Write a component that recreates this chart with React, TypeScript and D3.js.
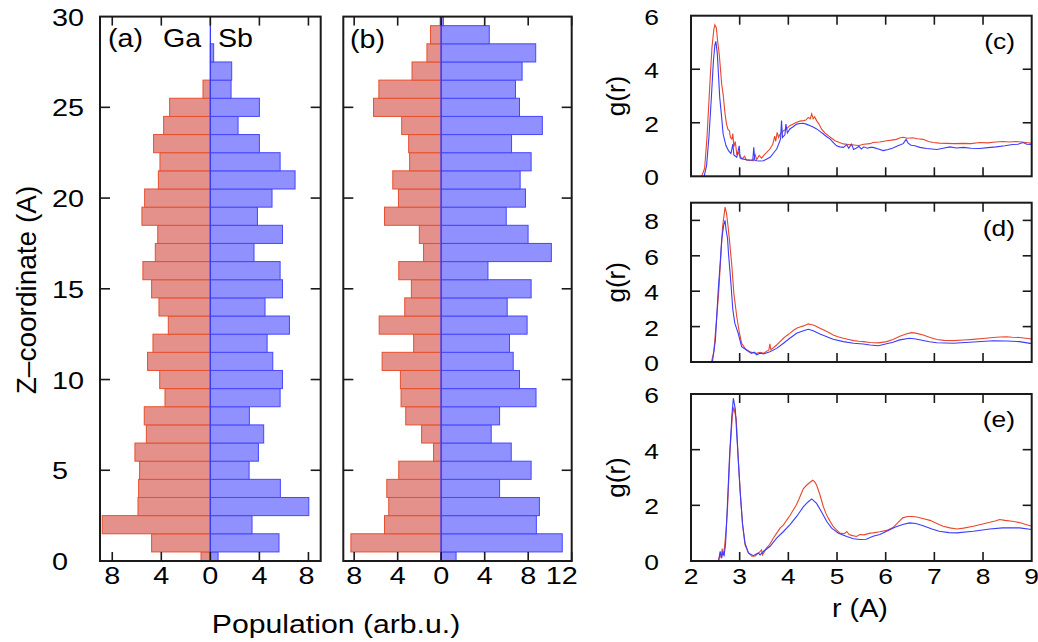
import React from "react";
import * as d3 from "d3";

// Z bins (centres, 1 A wide)
const zBins = d3.range(0, 31);

// panel (a): population per bin
const gaA = [0.76, 4.79, 8.82, 5.9, 5.85, 5.77, 6.15, 5.22, 5.39, 3.7, 4.13, 5.12, 4.68, 3.43, 4.19, 4.79,
  5.5, 4.49, 4.29, 5.58, 5.36, 4.24, 4.11, 4.63, 3.81, 3.32, 0.6, 0, 0, 0, 0];
const sbA = [0.63, 5.6, 3.4, 8.03, 5.71, 3.16, 3.92, 4.35, 3.18, 5.69, 5.88, 5.09, 4.63, 6.45, 4.46, 5.88,
  5.69, 3.56, 5.88, 3.84, 5.03, 6.91, 5.69, 4.0, 2.26, 4.0, 1.69, 1.74, 0.27, 0, 0];

// panel (b)
const gaB = [0.05, 8.3, 5.21, 4.82, 5.0, 3.9, 0.7, 1.8, 3.26, 3.69, 3.75, 5.43, 2.53, 5.7, 3.35, 2.74,
  3.9, 1.62, 2.01, 5.21, 3.93, 4.45, 2.9, 2.99, 3.63, 6.22, 5.73, 2.68, 1.31, 0.98, 0.1];
const sbB = [1.37, 11.13, 8.75, 9.03, 5.37, 8.27, 6.44, 4.6, 5.37, 8.72, 7.2, 6.62, 6.28, 7.9, 6.07, 8.27,
  4.3, 10.13, 7.99, 5.98, 7.75, 7.26, 8.27, 6.47, 9.3, 7.2, 6.83, 7.44, 8.69, 4.42, 0.2];

const zTicks = [0, 5, 10, 15, 20, 25, 30];
const popTicksA = [-8, -4, 0, 4, 8];
const popTicksB = [-8, -4, 0, 4, 8, 12];
const rTicks = [2, 3, 4, 5, 6, 7, 8, 9];
const gTicksC = [0, 2, 4, 6];
const gTicksD = [0, 2, 4, 6, 8];
const gTicksE = [0, 2, 4, 6];

// g(r) curves, [r, g]
const cRed = [[2.22,0],[2.28,0.3],[2.33,1.5],[2.38,3.2],[2.43,4.8],[2.47,5.5],[2.49,5.66],[2.52,5.55],[2.55,5.0],[2.58,4.57],[2.61,3.9],[2.63,3.45],[2.66,3.07],[2.7,2.33],[2.73,1.95],[2.76,1.75],[2.79,1.7],[2.81,1.45],[2.84,1.39],[2.86,1.6],[2.88,1.1],[2.91,1.3],[2.94,0.83],[2.97,0.9],[3.0,0.77],[3.05,0.65],[3.1,0.75],[3.14,0.6],[3.18,0.61],[3.23,0.6],[3.28,0.58],[3.32,0.8],[3.35,0.62],[3.4,0.78],[3.45,0.68],[3.49,0.77],[3.55,0.88],[3.62,1.02],[3.68,1.2],[3.72,1.5],[3.74,1.3],[3.77,1.64],[3.8,1.45],[3.83,1.58],[3.9,1.7],[3.96,1.77],[4.03,1.89],[4.1,1.95],[4.17,2.02],[4.24,2.06],[4.31,2.08],[4.36,2.1],[4.41,2.2],[4.45,2.15],[4.48,2.33],[4.51,2.15],[4.54,2.22],[4.58,2.08],[4.63,1.95],[4.68,1.77],[4.75,1.62],[4.82,1.52],[4.89,1.42],[4.96,1.33],[5.05,1.26],[5.13,1.21],[5.24,1.19],[5.34,1.17],[5.45,1.15],[5.55,1.2],[5.68,1.22],[5.74,1.26],[5.88,1.28],[6.02,1.33],[6.12,1.35],[6.22,1.38],[6.3,1.44],[6.36,1.46],[6.45,1.42],[6.55,1.44],[6.65,1.4],[6.77,1.38],[6.88,1.3],[6.98,1.26],[7.1,1.24],[7.25,1.23],[7.4,1.22],[7.59,1.23],[7.75,1.22],[7.93,1.26],[8.1,1.25],[8.25,1.28],[8.41,1.3],[8.55,1.28],[8.68,1.3],[8.85,1.27],[9.0,1.23]];
const cBlue = [[2.27,0],[2.32,0.4],[2.37,1.5],[2.42,3.0],[2.46,4.3],[2.49,4.9],[2.51,5.04],[2.54,4.6],[2.56,3.95],[2.59,2.95],[2.63,2.2],[2.66,1.58],[2.72,1.14],[2.77,0.96],[2.82,0.85],[2.86,1.2],[2.88,0.8],[2.94,0.71],[2.99,1.14],[3.01,0.68],[3.06,0.65],[3.14,0.62],[3.22,0.6],[3.27,0.62],[3.29,1.08],[3.31,0.6],[3.35,0.58],[3.42,0.57],[3.49,0.58],[3.56,0.65],[3.63,0.72],[3.7,0.88],[3.76,1.02],[3.8,1.2],[3.84,1.4],[3.86,2.08],[3.88,1.45],[3.93,1.55],[3.95,1.95],[3.98,1.62],[4.03,1.77],[4.1,1.85],[4.17,1.95],[4.24,1.97],[4.31,1.98],[4.38,1.94],[4.45,1.89],[4.52,1.83],[4.58,1.77],[4.65,1.68],[4.72,1.58],[4.79,1.48],[4.86,1.39],[4.93,1.25],[4.99,1.14],[5.06,1.1],[5.13,1.08],[5.2,1.18],[5.24,1.05],[5.3,1.2],[5.34,1.0],[5.4,1.06],[5.45,1.12],[5.5,1.02],[5.55,1.1],[5.62,1.05],[5.68,1.08],[5.74,1.08],[5.85,1.02],[5.95,0.96],[6.05,1.0],[6.15,1.06],[6.25,1.14],[6.36,1.22],[6.42,1.38],[6.46,1.24],[6.52,1.16],[6.6,1.14],[6.7,1.08],[6.84,1.04],[6.95,1.02],[7.05,1.0],[7.18,1.05],[7.32,1.1],[7.45,1.06],[7.6,1.08],[7.75,1.05],[7.93,1.04],[8.1,1.07],[8.27,1.1],[8.45,1.14],[8.61,1.19],[8.72,1.2],[8.82,1.26],[8.9,1.2],[9.0,1.19]];

const dRed = [[2.42,0],[2.47,0.6],[2.53,2.57],[2.57,4.0],[2.6,5.4],[2.65,7.66],[2.7,8.75],[2.73,8.4],[2.76,7.7],[2.79,6.9],[2.84,5.4],[2.88,3.89],[2.94,2.57],[2.99,1.72],[3.04,1.06],[3.11,0.77],[3.16,0.65],[3.21,0.58],[3.28,0.52],[3.35,0.49],[3.42,0.55],[3.49,0.49],[3.55,0.6],[3.6,0.68],[3.62,1.02],[3.64,0.7],[3.7,0.82],[3.76,0.96],[3.83,1.15],[3.9,1.34],[3.97,1.5],[4.03,1.62],[4.1,1.78],[4.17,1.91],[4.24,1.98],[4.31,2.04],[4.37,2.1],[4.41,2.15],[4.46,2.12],[4.51,2.09],[4.58,2.0],[4.65,1.91],[4.72,1.82],[4.79,1.72],[4.86,1.62],[4.92,1.53],[5.02,1.43],[5.13,1.34],[5.24,1.27],[5.34,1.21],[5.45,1.17],[5.54,1.15],[5.68,1.1],[5.85,1.08],[6.02,1.15],[6.15,1.27],[6.29,1.45],[6.42,1.58],[6.53,1.66],[6.62,1.63],[6.77,1.53],[6.9,1.4],[7.05,1.27],[7.2,1.22],[7.39,1.21],[7.6,1.24],[7.8,1.28],[8.0,1.33],[8.21,1.38],[8.35,1.41],[8.48,1.43],[8.6,1.4],[8.75,1.38],[8.88,1.34],[9.0,1.3]];
const dBlue = [[2.44,0],[2.5,1.2],[2.56,4.08],[2.6,5.6],[2.63,6.9],[2.67,7.7],[2.7,8.0],[2.72,7.47],[2.75,7.0],[2.77,6.15],[2.82,4.45],[2.86,2.94],[2.9,2.2],[2.97,1.62],[3.04,0.87],[3.14,0.68],[3.24,0.49],[3.3,0.55],[3.35,0.4],[3.42,0.5],[3.49,0.45],[3.62,0.58],[3.76,0.77],[3.9,1.06],[4.03,1.34],[4.17,1.62],[4.31,1.77],[4.41,1.85],[4.51,1.77],[4.65,1.58],[4.79,1.43],[4.92,1.28],[5.13,1.15],[5.34,1.06],[5.54,1.02],[5.68,0.96],[5.85,0.92],[6.02,1.03],[6.15,1.12],[6.29,1.25],[6.49,1.34],[6.62,1.3],[6.77,1.21],[6.9,1.14],[7.05,1.09],[7.39,1.06],[7.8,1.13],[8.21,1.2],[8.48,1.19],[8.75,1.15],[9.0,1.04]];

const eRed = [[2.56,0],[2.6,0.3],[2.62,0.1],[2.64,0.45],[2.66,0.2],[2.69,0.5],[2.72,1.1],[2.75,1.89],[2.8,3.92],[2.85,5.23],[2.88,5.52],[2.9,5.35],[2.93,5.1],[2.97,3.68],[3.02,2.25],[3.06,1.3],[3.11,0.58],[3.18,0.29],[3.25,0.17],[3.32,0.18],[3.35,0.23],[3.4,0.3],[3.45,0.4],[3.47,0.22],[3.55,0.46],[3.62,0.6],[3.69,0.82],[3.76,1.0],[3.83,1.18],[3.9,1.3],[3.97,1.48],[4.04,1.65],[4.1,1.83],[4.16,2.0],[4.21,2.19],[4.26,2.4],[4.31,2.6],[4.38,2.73],[4.44,2.82],[4.5,2.9],[4.54,2.85],[4.58,2.73],[4.65,2.37],[4.72,1.95],[4.77,1.72],[4.82,1.54],[4.92,1.24],[5.0,1.1],[5.06,1.0],[5.15,0.98],[5.2,1.06],[5.25,0.95],[5.3,0.92],[5.4,0.88],[5.47,0.95],[5.55,0.94],[5.68,1.0],[5.74,1.01],[5.88,1.05],[6.02,1.1],[6.15,1.2],[6.25,1.38],[6.35,1.55],[6.45,1.6],[6.55,1.6],[6.64,1.58],[6.78,1.52],[6.91,1.46],[7.05,1.35],[7.18,1.25],[7.32,1.19],[7.46,1.15],[7.6,1.18],[7.8,1.25],[7.97,1.32],[8.14,1.39],[8.25,1.44],[8.34,1.49],[8.45,1.46],[8.6,1.43],[8.75,1.38],[8.88,1.31],[9.0,1.25]];
const eBlue = [[2.57,0],[2.6,0.35],[2.63,0.1],[2.65,0.3],[2.68,0.2],[2.71,0.6],[2.73,1.3],[2.79,3.68],[2.84,5.23],[2.87,5.85],[2.91,5.46],[2.95,4.27],[3.01,2.49],[3.06,1.3],[3.11,0.64],[3.18,0.29],[3.28,0.19],[3.38,0.29],[3.42,0.22],[3.49,0.35],[3.62,0.52],[3.76,0.82],[3.9,1.06],[4.03,1.3],[4.17,1.6],[4.31,1.95],[4.41,2.13],[4.48,2.23],[4.58,2.07],[4.68,1.77],[4.79,1.42],[4.89,1.18],[5.03,1.0],[5.2,0.88],[5.34,0.8],[5.47,0.77],[5.6,0.78],[5.74,0.89],[5.88,0.95],[6.02,1.07],[6.2,1.22],[6.35,1.31],[6.49,1.37],[6.62,1.35],[6.77,1.27],[6.95,1.15],[7.1,1.07],[7.3,1.02],[7.46,1.01],[7.8,1.07],[8.14,1.15],[8.4,1.19],[8.75,1.19],[9.0,1.13]];

const FONT = "'Liberation Sans', Arial, Helvetica, sans-serif";
const RED_FILL = "#e4918c";
const RED_EDGE = "#e5502e";
const BLUE_FILL = "#9090ff";
const BLUE_EDGE = "#4646ff";
const RED_LINE = "#e8472b";
const BLUE_LINE = "#3b3bff";
const AXIS = "#1a1a1a";

const Z_TOP = 16.6;
const Z_BOT = 561;

function SText({x, y, size, sx = 1, anchor = "start", rotate = 0, children}: any) {
  return (
    <g transform={`translate(${x},${y}) scale(${sx},1) rotate(${rotate})`}>
      <text fontFamily={FONT} fontSize={size} textAnchor={anchor} fill="#000">{children}</text>
    </g>
  );
}

function HistPanel({left, right, domain, ga, sb, ticks, showZ}: any) {
  const x = d3.scaleLinear().domain(domain).range([left, right]);
  const y = d3.scaleLinear().domain([0, 30]).range([Z_BOT, Z_TOP]);
  const hi = (z: number) => Math.min(30, z + 0.5);
  const lo = (z: number) => Math.max(0, z - 0.5);
  return (
    <g>
      {zBins.map((z, i) => ga[i] > 0 ? (
        <rect key={"g" + i} x={x(-ga[i])} y={y(hi(z))} width={x(0) - x(-ga[i])}
              height={y(lo(z)) - y(hi(z))} fill={RED_FILL} stroke={RED_EDGE} strokeWidth={1}/>
      ) : null)}
      {zBins.map((z, i) => sb[i] > 0 ? (
        <rect key={"s" + i} x={x(0)} y={y(hi(z))} width={x(sb[i]) - x(0)}
              height={y(lo(z)) - y(hi(z))} fill={BLUE_FILL} stroke={BLUE_EDGE} strokeWidth={1}/>
      ) : null)}
      <line x1={x(0)} x2={x(0)} y1={y(0)} y2={y(30)} stroke={BLUE_LINE} strokeWidth={1.3}/>
      <rect x={left} y={Z_TOP} width={right - left} height={Z_BOT - Z_TOP} fill="none" stroke={AXIS} strokeWidth={2}/>
      {zTicks.slice(1, -1).map(t => (
        <g key={"zt" + t}>
          <line x1={left} x2={left + 10} y1={y(t)} y2={y(t)} stroke={AXIS} strokeWidth={1.6}/>
          <line x1={right} x2={right - 10} y1={y(t)} y2={y(t)} stroke={AXIS} strokeWidth={1.6}/>
        </g>
      ))}
      {ticks.map((t: number) => (
        <g key={"pt" + t}>
          <line x1={x(t)} x2={x(t)} y1={Z_BOT} y2={Z_BOT - 9} stroke={AXIS} strokeWidth={1.6}/>
          <line x1={x(t)} x2={x(t)} y1={Z_TOP} y2={Z_TOP + 9} stroke={AXIS} strokeWidth={1.6}/>
          {x(t) + 16 > right + 2
            ? <SText x={x(t) + 6} y={584} size={24} sx={1.2} anchor="end">{Math.abs(t)}</SText>
            : <SText x={x(t)} y={584} size={24} sx={1.2} anchor="middle">{Math.abs(t)}</SText>}
        </g>
      ))}
      {showZ && zTicks.map(t => (
        <SText key={"zl" + t} x={52} y={y(t) + 9} size={24} sx={1.2}>{t}</SText>
      ))}
    </g>
  );
}

const R_LEFT = 691;
const R_RIGHT = 1031.7;

function GrPanel({top, bottom, yMax, yTicks, red, blue, label, labelY, showX}: any) {
  const x = d3.scaleLinear().domain([2, 9]).range([R_LEFT, R_RIGHT]);
  const y = d3.scaleLinear().domain([0, yMax]).range([bottom, top]);
  const line = d3.line<number[]>().x(d => x(d[0])).y(d => y(d[1]));
  return (
    <g>
      <path d={line(red) || ""} fill="none" stroke={RED_LINE} strokeWidth={1.1}/>
      <path d={line(blue) || ""} fill="none" stroke={BLUE_LINE} strokeWidth={1.1}/>
      <rect x={R_LEFT} y={top} width={R_RIGHT - R_LEFT} height={bottom - top} fill="none" stroke={AXIS} strokeWidth={2}/>
      {rTicks.slice(1, -1).map(t => (
        <g key={"rt" + t}>
          <line x1={x(t)} x2={x(t)} y1={bottom} y2={bottom - 9} stroke={AXIS} strokeWidth={1.6}/>
          <line x1={x(t)} x2={x(t)} y1={top} y2={top + 9} stroke={AXIS} strokeWidth={1.6}/>
        </g>
      ))}
      {showX && rTicks.map(t => (
        <SText key={"rl" + t} x={x(t)} y={584} size={22} sx={1.2} anchor="middle">{t}</SText>
      ))}
      {yTicks.map((t: number) => (
        <g key={"gt" + t}>
          {t > 0 && t < yMax ? (
            <>
              <line x1={R_LEFT} x2={R_LEFT + 9} y1={y(t)} y2={y(t)} stroke={AXIS} strokeWidth={1.6}/>
              <line x1={R_RIGHT} x2={R_RIGHT - 9} y1={y(t)} y2={y(t)} stroke={AXIS} strokeWidth={1.6}/>
            </>
          ) : null}
          <SText x={659} y={y(t) + 9} size={22} sx={1.2} anchor="end">{t}</SText>
        </g>
      ))}
      <SText x={625} y={(top + bottom) / 2} size={26} anchor="middle" rotate={-90}>g(r)</SText>
      <SText x={1015} y={labelY} size={22} sx={1.2} anchor="end">{label}</SText>
    </g>
  );
}

export default function App() {
  return (
    <svg width={1038} height={642} style={{position: "absolute", left: 0, top: 0, background: "#fff"}}>
      <rect x={0} y={0} width={1038} height={642} fill="#fff"/>
      <HistPanel left={100} right={320.7} domain={[-9, 9]} ga={gaA} sb={sbA} ticks={popTicksA} showZ={true}/>
      <HistPanel left={343.3} right={571.7} domain={[-9, 12]} ga={gaB} sb={sbB} ticks={popTicksB} showZ={false}/>
      <SText x={108} y={47} size={26} sx={1.1}>(a)</SText>
      <SText x={163} y={47} size={26} sx={1.1}>Ga</SText>
      <SText x={218} y={47} size={26} sx={1.1}>Sb</SText>
      <SText x={350} y={48} size={26} sx={1.1}>(b)</SText>
      <SText x={36} y={290} size={28} anchor="middle" rotate={-90}>Z–coordinate (A)</SText>
      <SText x={336} y={633} size={26.5} sx={1.14} anchor="middle">Population (arb.u.)</SText>

      <GrPanel top={15.7} bottom={176.3} yMax={6} yTicks={gTicksC} red={cRed} blue={cBlue} label="(c)" labelY={49} showX={false}/>
      <GrPanel top={202.7} bottom={362} yMax={9} yTicks={gTicksD} red={dRed} blue={dBlue} label="(d)" labelY={235.5} showX={false}/>
      <GrPanel top={394} bottom={561} yMax={6} yTicks={gTicksE} red={eRed} blue={eBlue} label="(e)" labelY={427} showX={true}/>
      <SText x={860} y={617} size={25} sx={1.15} anchor="middle">r (A)</SText>
    </svg>
  );
}
